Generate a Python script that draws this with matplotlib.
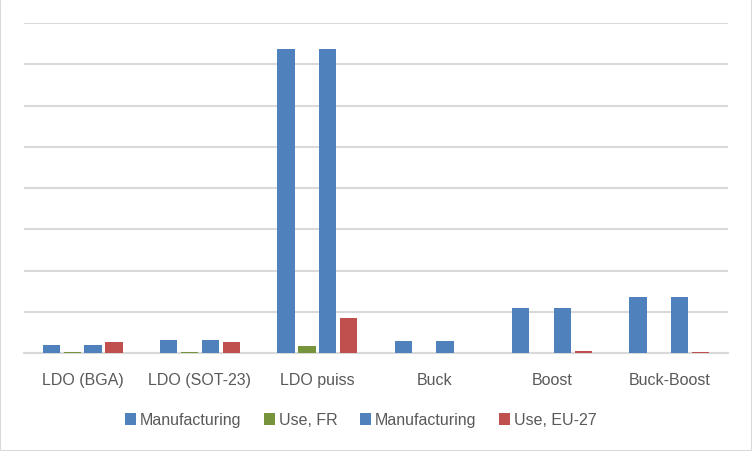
import matplotlib.pyplot as plt
import numpy as np
from matplotlib.patches import Patch, Rectangle

categories = ["LDO (BGA)", "LDO (SOT-23)", "LDO puiss", "Buck", "Boost", "Buck-Boost"]
series_names = ["Manufacturing", "Use, FR", "Manufacturing", "Use, EU-27"]
manufacturing_a = [0.19, 0.31, 7.37, 0.29, 1.09, 1.36]
use_fr = [0.03, 0.03, 0.17, 0.0, 0.0, 0.0]
manufacturing_b = [0.19, 0.31, 7.37, 0.29, 1.09, 1.36]
use_eu27 = [0.27, 0.27, 0.85, 0.0, 0.05, 0.03]

colors = ["#4F81BD", "#77933C", "#4F81BD", "#C0504D"]
text_color = "#595959"
grid_color = "#D9D9D9"

plt.rcParams["font.family"] = ["Liberation Sans", "DejaVu Sans"]

fig = plt.figure(figsize=(7.52, 4.52), dpi=100)
fig.patches.append(Rectangle((0, 0), 1, 1, transform=fig.transFigure,
                             fill=False, edgecolor=grid_color, linewidth=1.5))

W, H = 752, 452
ax = fig.add_axes([24 / W, (H - 354) / H, (728 - 24) / W, (354 - 24) / H])

x = np.arange(len(categories))
slot = 0.178
bar_w = 0.148
all_series = [manufacturing_a, use_fr, manufacturing_b, use_eu27]
for i, (vals, col) in enumerate(zip(all_series, colors)):
    offset = (i - 1.5) * slot
    ax.bar(x + offset, vals, width=bar_w, color=col, zorder=3)

ax.set_xlim(-0.5, len(categories) - 0.5)
ax.set_ylim(0, 8)
ax.set_yticks(np.arange(0, 9, 1))
ax.set_yticklabels([])
ax.tick_params(axis="y", length=0)
ax.grid(axis="y", color=grid_color, linewidth=1.5, zorder=0)
ax.set_xticks(x)
ax.set_xticklabels(categories, fontsize=11.5, color=text_color)
ax.tick_params(axis="x", length=0, pad=14)
for side in ["top", "right", "left"]:
    ax.spines[side].set_visible(False)
ax.spines["bottom"].set_color(grid_color)
ax.spines["bottom"].set_linewidth(1.5)

handles = [Patch(facecolor=c, edgecolor="none") for c in colors]
fig.legend(handles, series_names, loc="center", bbox_to_anchor=(0.4795, (H - 421) / H),
           ncol=4, frameon=False, fontsize=11.5, labelcolor=text_color,
           handlelength=0.7, handleheight=0.7, handletextpad=0.25, columnspacing=1.4)

fig.savefig("out.png", dpi=100)
